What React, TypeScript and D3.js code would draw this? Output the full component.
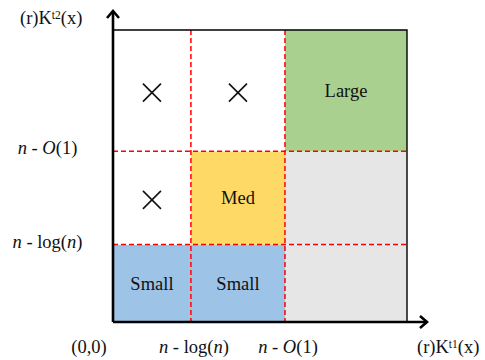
// Size-regime diagram: a 3x3 grid over two rank axes, with the
// n - log(n) and n - O(1) breakpoints drawn as red dashed lines.
import React, { useEffect, useRef } from 'react';
import * as d3 from 'd3';

const WIDTH = 485;
const HEIGHT = 360;

// Breakpoints as a fraction of the axis length (both axes share them).
const breaks = [0.265, 0.585];
const breakLabels = ['log', 'O'];

// Cells: column, row (0 = bottom), fill, content.
const cellCols = [0, 1, 2, 0, 1, 2, 0, 1, 2];
const cellRows = [0, 0, 0, 1, 1, 1, 2, 2, 2];
const cellFills = ['#9dc3e6', '#9dc3e6', '#e7e6e6', '#ffffff', '#ffd966', '#e7e6e6', '#ffffff', '#ffffff', '#a9d08e'];
const cellTexts = ['Small', 'Small', '', 'X', 'Med', '', 'X', 'X', 'Large'];

const FONT = '"Liberation Serif", "Times New Roman", serif';
const FS = 18.5;

const App = () => {
  const svgRef = useRef<SVGSVGElement>(null);

  useEffect(() => {
    document.body.style.margin = '0';
    const svg = d3.select(svgRef.current).attr('width', WIDTH).attr('height', HEIGHT);
    svg.selectAll('*').remove();
    svg.append('rect').attr('width', WIDTH).attr('height', HEIGHT).attr('fill', 'white');

    const x = d3.scaleLinear().domain([0, 1]).range([113, 407]);
    const y = d3.scaleLinear().domain([0, 1]).range([322, 30]);
    const edges = [0, ...breaks, 1];

    // Cells
    const cells = cellCols.map((c, i) => ({ c, r: cellRows[i], fill: cellFills[i], text: cellTexts[i] }));
    svg
      .append('g')
      .selectAll('rect')
      .data(cells)
      .enter()
      .append('rect')
      .attr('x', (d) => x(edges[d.c]))
      .attr('y', (d) => y(edges[d.r + 1]))
      .attr('width', (d) => x(edges[d.c + 1]) - x(edges[d.c]))
      .attr('height', (d) => y(edges[d.r]) - y(edges[d.r + 1]))
      .attr('fill', (d) => d.fill);

    const cx = (d) => (x(edges[d.c]) + x(edges[d.c + 1])) / 2;
    const cy = (d) => (y(edges[d.r]) + y(edges[d.r + 1])) / 2;

    svg
      .append('g')
      .selectAll('text')
      .data(cells.filter((d) => d.text && d.text !== 'X'))
      .enter()
      .append('text')
      .attr('x', cx)
      .attr('y', (d) => cy(d) + 6.5)
      .attr('text-anchor', 'middle')
      .attr('font-family', FONT)
      .attr('font-size', FS)
      .attr('fill', '#111')
      .text((d) => d.text);

    // Crosses for the empty regimes
    const xs = 9;
    const crosses = svg.append('g').attr('stroke', '#111').attr('stroke-width', 1.6);
    cells
      .filter((d) => d.text === 'X')
      .forEach((d) => {
        const px = cx(d);
        const py = cy(d) + 2;
        crosses.append('line').attr('x1', px - xs).attr('y1', py - xs).attr('x2', px + xs).attr('y2', py + xs);
        crosses.append('line').attr('x1', px - xs).attr('y1', py + xs).attr('x2', px + xs).attr('y2', py - xs);
      });

    // Red dashed breakpoints
    const dash = svg
      .append('g')
      .attr('stroke', '#ff0000')
      .attr('stroke-width', 1.5)
      .style('stroke-dasharray', '5, 3');
    breaks.forEach((b) => {
      dash.append('line').attr('x1', x(b)).attr('x2', x(b)).attr('y1', y(1)).attr('y2', y(0));
      dash.append('line').attr('x1', x(0)).attr('x2', x(1)).attr('y1', y(b)).attr('y2', y(b));
    });

    // Frame: thin top/right, thick axes with open arrows
    svg
      .append('path')
      .attr('d', `M${x(0)},${y(1)}H${x(1)}V${y(0)}`)
      .attr('fill', 'none')
      .attr('stroke', '#000')
      .attr('stroke-width', 1.4);
    const axes = svg
      .append('g')
      .attr('fill', 'none')
      .attr('stroke', '#000')
      .attr('stroke-width', 2.6)
      .attr('stroke-linejoin', 'miter');
    axes.append('path').attr('d', `M${x(0)},${y(0)}V11`);
    axes.append('path').attr('d', `M${x(0) - 6},18L${x(0)},11L${x(0) + 6},18`);
    axes.append('path').attr('d', `M${x(0)},${y(0)}H427`);
    axes.append('path').attr('d', `M420,${y(0) - 6}L427,${y(0)}L420,${y(0) + 6}`);

    const label = (px, py, anchor) =>
      svg
        .append('text')
        .attr('x', px)
        .attr('y', py)
        .attr('text-anchor', anchor)
        .attr('font-family', FONT)
        .attr('font-size', FS)
        .attr('fill', '#111');

    const breakText = (t, kind) => {
      t.append('tspan').attr('font-style', 'italic').text('n');
      t.append('tspan').text(' - ');
      if (kind === 'log') {
        t.append('tspan').text('log(');
        t.append('tspan').attr('font-style', 'italic').text('n');
        t.append('tspan').text(')');
      } else {
        t.append('tspan').attr('font-style', 'italic').text('O');
        t.append('tspan').text('(1)');
      }
    };

    // Axis names
    const kLabel = (t, sup) => {
      t.append('tspan').text('(r)K');
      t.append('tspan').attr('font-size', 11.5).attr('dy', -5).text(sup);
      t.append('tspan').attr('dy', 5).text('(x)');
    };
    kLabel(label(20, 24, 'start'), 't2');
    kLabel(label(417, 353, 'start'), 't1');

    // Breakpoint labels
    breaks.forEach((b, i) => {
      breakText(label(47.5, y(b) + 3, 'middle'), breakLabels[i]);
      breakText(label(x(b) + 3, 353, 'middle'), breakLabels[i]);
    });
    label(89, 353, 'middle').text('(0,0)');
  }, []);

  return <svg ref={svgRef} style={{ display: 'block' }} />;
};

export default App;
